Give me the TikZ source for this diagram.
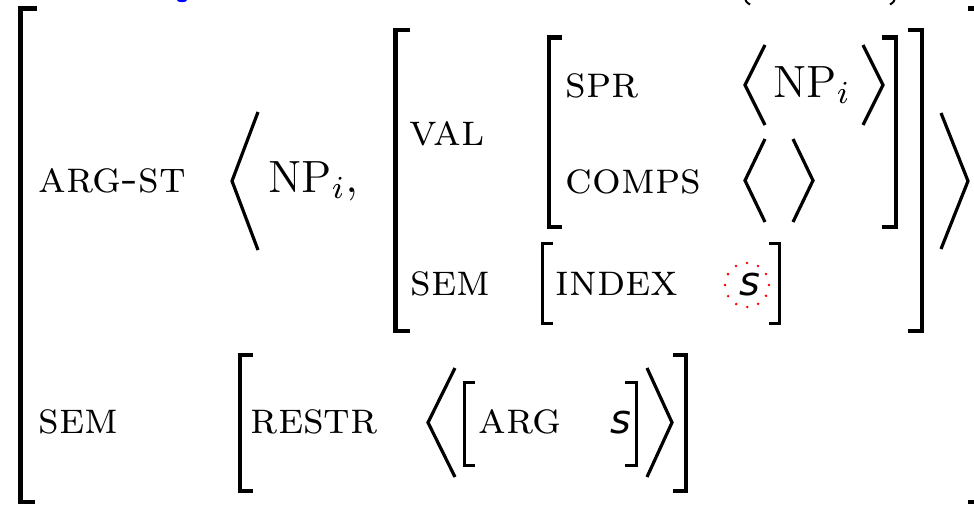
\documentclass[tikz,border=0pt]{standalone}
\usepackage{fontspec}
\newfontfamily\sfs{DejaVu Sans}
\begin{document}
\begin{tikzpicture}[x=0.25pt,y=-0.25pt,
  lab/.style={anchor=base west,inner sep=0pt,font=\fontsize{11.3}{13}\selectfont},
  svar/.style={anchor=base west,inner sep=0pt,font=\fontsize{10}{12}\selectfont\sfs\itshape},
  brk/.style={line width=1.05pt,line join=miter,line cap=butt},
  sbrk/.style={line width=0.75pt,line join=miter,line cap=butt},
  ang/.style={line width=0.8pt,line join=miter,line cap=butt},
  ring/.style={red,line width=0.7pt,line cap=round,dash pattern=on 0pt off 2.88pt}]
\useasboundingbox (0,0) rectangle (974,504);
% cut-off fragments at the top edge
\fill[blue] (182,0) ellipse (1.3pt and 0.55pt);
\draw[line width=0.5pt] (745,-3) .. controls (746,2) .. (750,4.5);
\draw[line width=0.5pt] (895,-3) .. controls (894,2) .. (890,4.5);
% outer brackets
\draw[brk] (37,8.5) -- (20.5,8.5) -- (20.5,502) -- (35,502);
\draw[brk] (968,8.5) -- (978,8.5) -- (978,502) -- (968,502);
% VAL/SEM bracket
\draw[brk] (410,30) -- (395.5,30) -- (395.5,331) -- (410,331);
\draw[brk] (908,30) -- (922,30) -- (922,331) -- (908,331);
% SPR/COMPS bracket
\draw[brk] (562,37.5) -- (549,37.5) -- (549,227) -- (562,227);
\draw[brk] (882,37.5) -- (896,37.5) -- (896,227) -- (882,227);
% INDEX bracket
\draw[sbrk] (553,243) -- (542,243) -- (542,323) -- (553,323);
\draw[sbrk] (769,243) -- (779,243) -- (779,323) -- (769,323);
% RESTR bracket
\draw[brk] (253,355) -- (240,355) -- (240,491) -- (253,491);
\draw[brk] (673,355) -- (686,355) -- (686,491) -- (673,491);
% ARG bracket
\draw[sbrk] (475,382) -- (464,382) -- (464,465) -- (475,465);
\draw[sbrk] (625,382) -- (636,382) -- (636,465) -- (625,465);
% angle brackets
\draw[ang] (258,112) -- (232,181) -- (258,250);
\draw[ang] (941,113) -- (968,181) -- (941,249);
\draw[ang] (765,45) -- (745,85) -- (765,125);
\draw[ang] (863,45) -- (883,85) -- (863,125);
\draw[ang] (765,139) -- (745,180.5) -- (765,222);
\draw[ang] (793,139) -- (813,180.5) -- (793,222);
\draw[ang] (455,368) -- (428,422.5) -- (455,477);
\draw[ang] (647,368) -- (672,422.5) -- (647,477);
% texts
\node[lab] (argst) at (38,192) {\textsc{arg-st}};
\node[lab] (np1) at (268,192) {$\mathrm{NP}_i,$};
\node[lab] (val) at (409,145) {\textsc{val}};
\node[lab] (spr) at (565,97) {\textsc{spr}};
\node[lab] (np2) at (773,97) {$\mathrm{NP}_i$};
\node[lab] (comps) at (565,193) {\textsc{comps}};
\node[lab] (sem1) at (410,295) {\textsc{sem}};
\node[lab] (index) at (555,295) {\textsc{index}};
\node[svar] (s1) at (739,295) {s};
\draw[ring] (747,285) circle [radius=5.5pt];
\node[lab] (sem2) at (38,433) {\textsc{sem}};
\node[lab] (restr) at (250,433) {\textsc{restr}};
\node[lab] (arg) at (478,433) {\textsc{arg}};
\node[svar] (s2) at (610,433) {s};
\end{tikzpicture}
\end{document}
